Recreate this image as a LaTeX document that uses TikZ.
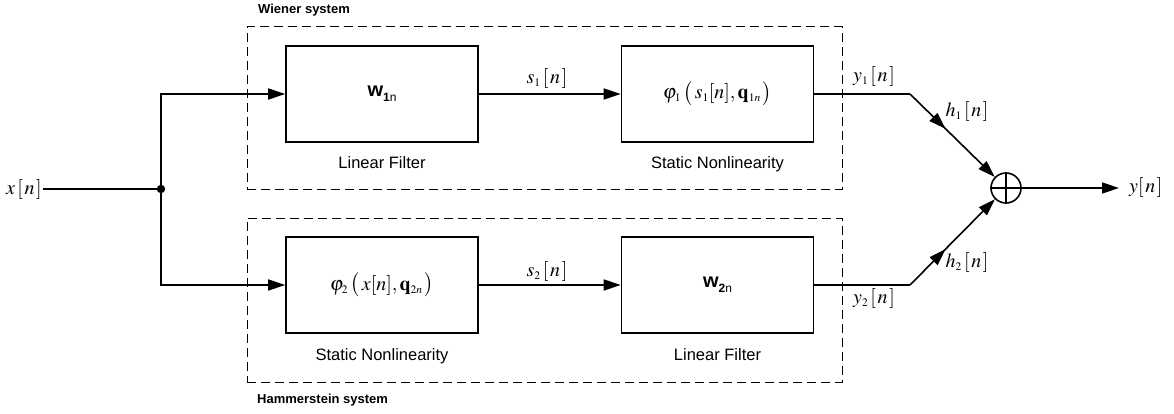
\documentclass[tikz,border=0pt]{standalone}
\usepackage{mathptmx}
\usepackage[no-math]{fontspec}
\setmainfont{Liberation Sans}
\usetikzlibrary{arrows.meta,decorations.markings}
\DeclareMathSizes{20}{20}{11.5}{9}
\newcommand\msz{\fontsize{20}{23}\selectfont}
\newcommand\brn{\mathopen{[}\mkern1.5mu n\mkern1.5mu\mathclose{]}}
\newcommand\wsym[1]{{\fontsize{20}{22}\selectfont\bfseries w\raisebox{-0.45ex}{\fontsize{12}{13}\selectfont #1\mdseries n}}}
\begin{document}
\begin{tikzpicture}[x=1pt,y=-1pt,
  blk/.style={draw,line width=1.6pt,minimum width=192pt,minimum height=96pt,inner sep=0pt},
  dbox/.style={draw,dashed,dash pattern=on 9pt off 5pt,line width=1pt,inner sep=0pt},
  lbl/.style={font=\fontsize{16.5}{18}\selectfont,anchor=base,inner sep=0pt},
  ttl/.style={font=\fontsize{13}{15}\selectfont\bfseries,anchor=base west,inner sep=0pt},
  mth/.style={font=\msz,inner sep=1pt},
  ln/.style={line width=1.6pt},
  tip/.style={-{Triangle[length=17pt,width=11pt]}},
  arr/.style={ln,tip},
  midarr/.style={postaction={decorate},decoration={markings,mark=at position 0.42 with {\arrow{Triangle[length=17pt,width=11pt]}}}}
]
\useasboundingbox (0,0) rectangle (1174,414);
% dashed system boxes
\node[dbox,minimum width=595pt,minimum height=162pt] (wien) at (544.5,108) {};
\node[dbox,minimum width=595pt,minimum height=164pt] (hamm) at (544.5,300) {};
\node[ttl] (wt) at (258,14) {Wiener system};
\node[ttl] (ht) at (257,403) {Hammerstein system};
% blocks
\node[blk] (w1) at (382,94) {\wsym{1}};
\node[blk] (p1) at (717.5,94) {\msz$\varphi_1\,\bigl(\,s_1[n],\mathbf{q}_{1n}\,\bigr)$};
\node[blk] (p2) at (382,285) {\msz$\varphi_2\,\bigl(\,x[n],\mathbf{q}_{2n}\,\bigr)$};
\node[blk] (w2) at (717.5,285) {\wsym{2}};
\node[lbl] (l1) at (382,168) {Linear Filter};
\node[lbl] (l2) at (717.5,168) {Static Nonlinearity};
\node[lbl] (l3) at (382,360) {Static Nonlinearity};
\node[lbl] (l4) at (717.5,360) {Linear Filter};
% input
\node[mth] (x) at (24,189) {$x\,\brn$};
\coordinate (jn) at (161,189);
\draw[ln] (x.east) -- (jn);
\draw[arr] (jn) |- (w1.west);
\draw[arr] (jn) |- (p2.west);
\fill (jn) circle (4.2pt);
% internal arrows
\draw[arr] (w1.east) -- (p1.west);
\node[mth] (s1) at (547,79) {$s_1\,\brn$};
\draw[arr] (p2.east) -- (w2.west);
\node[mth] (s2) at (547,271) {$s_2\,\brn$};
% summing junction
\node[draw,circle,line width=1.6pt,minimum size=30pt,inner sep=0pt] (sum) at (1006,188) {};
\draw[line width=1.4pt] (sum.north) -- (sum.south) (sum.west) -- (sum.east);
\coordinate (c1) at (910,94);
\coordinate (c2) at (910,285);
\draw[ln] (p1.east) -- (c1);
\draw[arr,midarr] (c1) -- (sum);
\draw[ln] (w2.east) -- (c2);
\draw[arr,midarr] (c2) -- (sum);
\node[mth] (y1) at (874,77) {$y_1\,\brn$};
\node[mth] (y2) at (874,298) {$y_2\,\brn$};
\node[mth] (h1) at (967,112) {$h_1\,\brn$};
\node[mth] (h2) at (967,262) {$h_2\,\brn$};
% output
\node[mth,anchor=west,inner sep=0pt] (y) at (1129,188) {$y\brn$};
\draw[arr,shorten >=10pt] (sum.east) -- (y.west);
\end{tikzpicture}
\end{document}
